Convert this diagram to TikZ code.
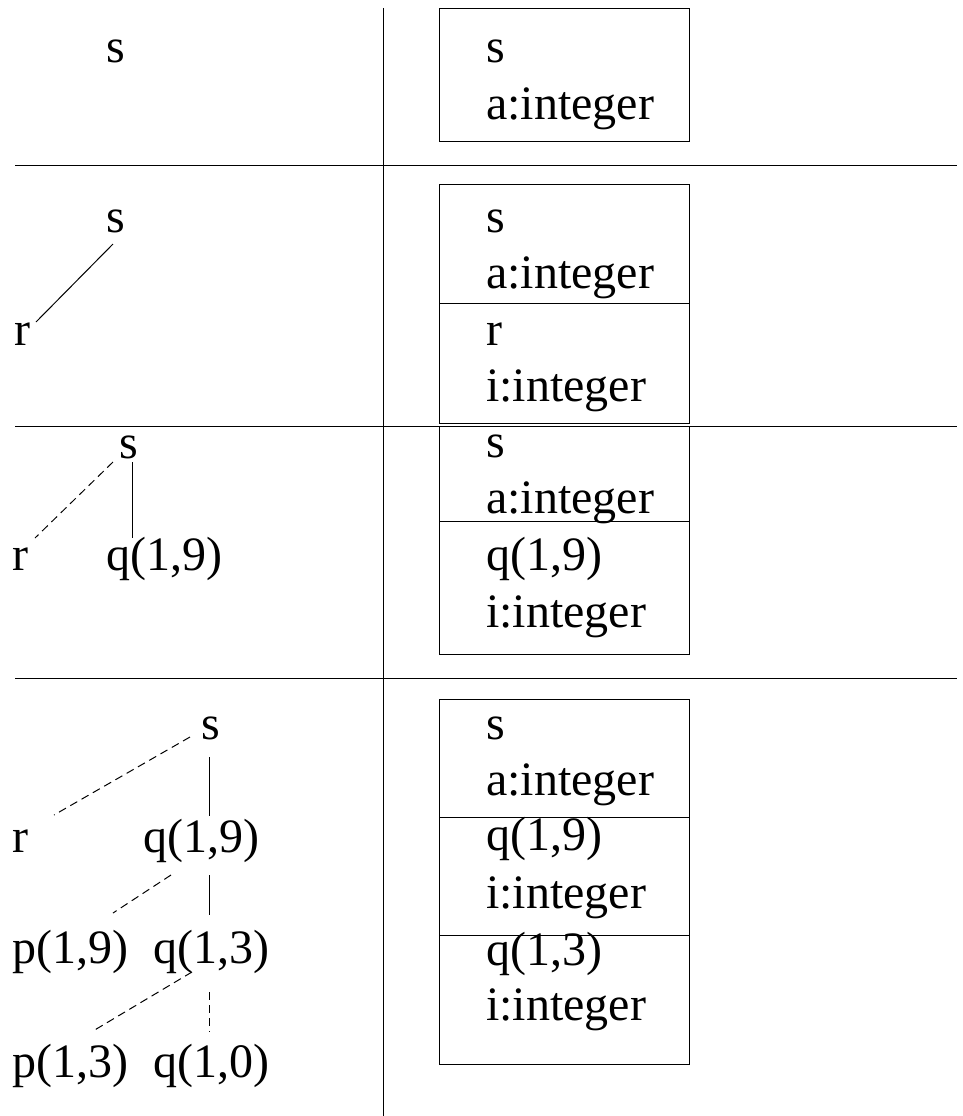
\documentclass[tikz,border=0pt]{standalone}
\usepackage{fontspec}
\setmainfont{Liberation Serif}
\begin{document}
\begin{tikzpicture}[x=1pt,y=-1pt,
  lbl/.style={inner sep=0pt,anchor=base west,font=\fontsize{48}{56}\selectfont},
  box/.style={draw,line width=1pt,inner sep=0pt,anchor=north west,minimum width=250pt},
  rule/.style={line width=1pt},
  tie/.style={line width=1pt},
  dtie/.style={line width=1pt,dash pattern=on 8pt off 5pt}]
\useasboundingbox (0,0) rectangle (963,1116);
% grid rules
\coordinate (vt) at (383,8);
\coordinate (vb) at (383,1116);
\draw[rule] (vt) -- (vb);
\coordinate (h1l) at (15,165); \coordinate (h1r) at (957,165);
\coordinate (h2l) at (15,426); \coordinate (h2r) at (957,426);
\coordinate (h3l) at (15,678); \coordinate (h3r) at (957,678);
\draw[rule] (h1l) -- (h1r);
\draw[rule] (h2l) -- (h2r);
\draw[rule] (h3l) -- (h3r);
% ---------- row 1
\node[lbl] (s1) at (106,63) {s};
\node[box,minimum height=133pt] (b1) at (439,8) {};
\node[lbl] (b1s) at (486,63) {s};
\node[lbl] (b1a) at (486,119) {a:integer};
% ---------- row 2
\node[lbl] (s2) at (106,232) {s};
\node[lbl] (r2) at (14,345) {r};
\draw[tie] ([shift={(7,12)}]s2.base west) -- ([shift={(22,-23)}]r2.base west);
\node[box,minimum height=119pt] (b2a) at (439,184) {};
\node[box,minimum height=120pt] (b2b) at (439,303) {};
\node[lbl] (b2s) at (486,232) {s};
\node[lbl] (b2a1) at (486,288) {a:integer};
\node[lbl] (b2r) at (486,345) {r};
\node[lbl] (b2i) at (486,401) {i:integer};
% ---------- row 3
\node[lbl] (s3) at (119,458) {s};
\node[lbl] (r3) at (12,570) {r};
\node[lbl] (q3) at (106,570) {q(1,9)};
\draw[dtie] ([shift={(-6,4)}]s3.base west) -- ([shift={(23,-32)}]r3.base west);
\draw[tie] ([shift={(13,4)}]s3.base west) -- ([shift={(26,-32)}]q3.base west);
\node[box,minimum height=95pt] (b3a) at (439,426) {};
\node[box,minimum height=133pt] (b3b) at (439,521) {};
\node[lbl] (b3s) at (486,457) {s};
\node[lbl] (b3a1) at (486,513) {a:integer};
\node[lbl] (b3q) at (486,570) {q(1,9)};
\node[lbl] (b3i) at (486,627) {i:integer};
% ---------- row 4
\node[lbl] (s4) at (201,739) {s};
\node[lbl] (r4) at (12,852) {r};
\node[lbl] (q4a) at (143,852) {q(1,9)};
\node[lbl] (p4a) at (12,963) {p(1,9)};
\node[lbl] (q4b) at (153,963) {q(1,3)};
\node[lbl] (p4b) at (12,1077) {p(1,3)};
\node[lbl] (q4c) at (153,1077) {q(1,0)};
\draw[dtie] ([shift={(-11,-2)}]s4.base west) -- ([shift={(42,-37)}]r4.base west);
\draw[tie] ([shift={(8,18)}]s4.base west) -- ([shift={(66,-36)}]q4a.base west);
\draw[dtie] ([shift={(28,23)}]q4a.base west) -- ([shift={(101,-50)}]p4a.base west);
\draw[tie] ([shift={(66,23)}]q4a.base west) -- ([shift={(56,-48)}]q4b.base west);
\draw[dtie] ([shift={(39,9)}]q4b.base west) -- ([shift={(81,-46)}]p4b.base west);
\draw[dtie] ([shift={(56,29)}]q4b.base west) -- ([shift={(56,-45)}]q4c.base west);
\node[box,minimum height=118pt] (b4a) at (439,699) {};
\node[box,minimum height=118pt] (b4b) at (439,817) {};
\node[box,minimum height=129pt] (b4c) at (439,935) {};
\node[lbl] (b4s) at (486,739) {s};
\node[lbl] (b4a1) at (486,795) {a:integer};
\node[lbl] (b4q1) at (486,850) {q(1,9)};
\node[lbl] (b4i1) at (486,908) {i:integer};
\node[lbl] (b4q2) at (486,965) {q(1,3)};
\node[lbl] (b4i2) at (486,1020) {i:integer};
\end{tikzpicture}
\end{document}
